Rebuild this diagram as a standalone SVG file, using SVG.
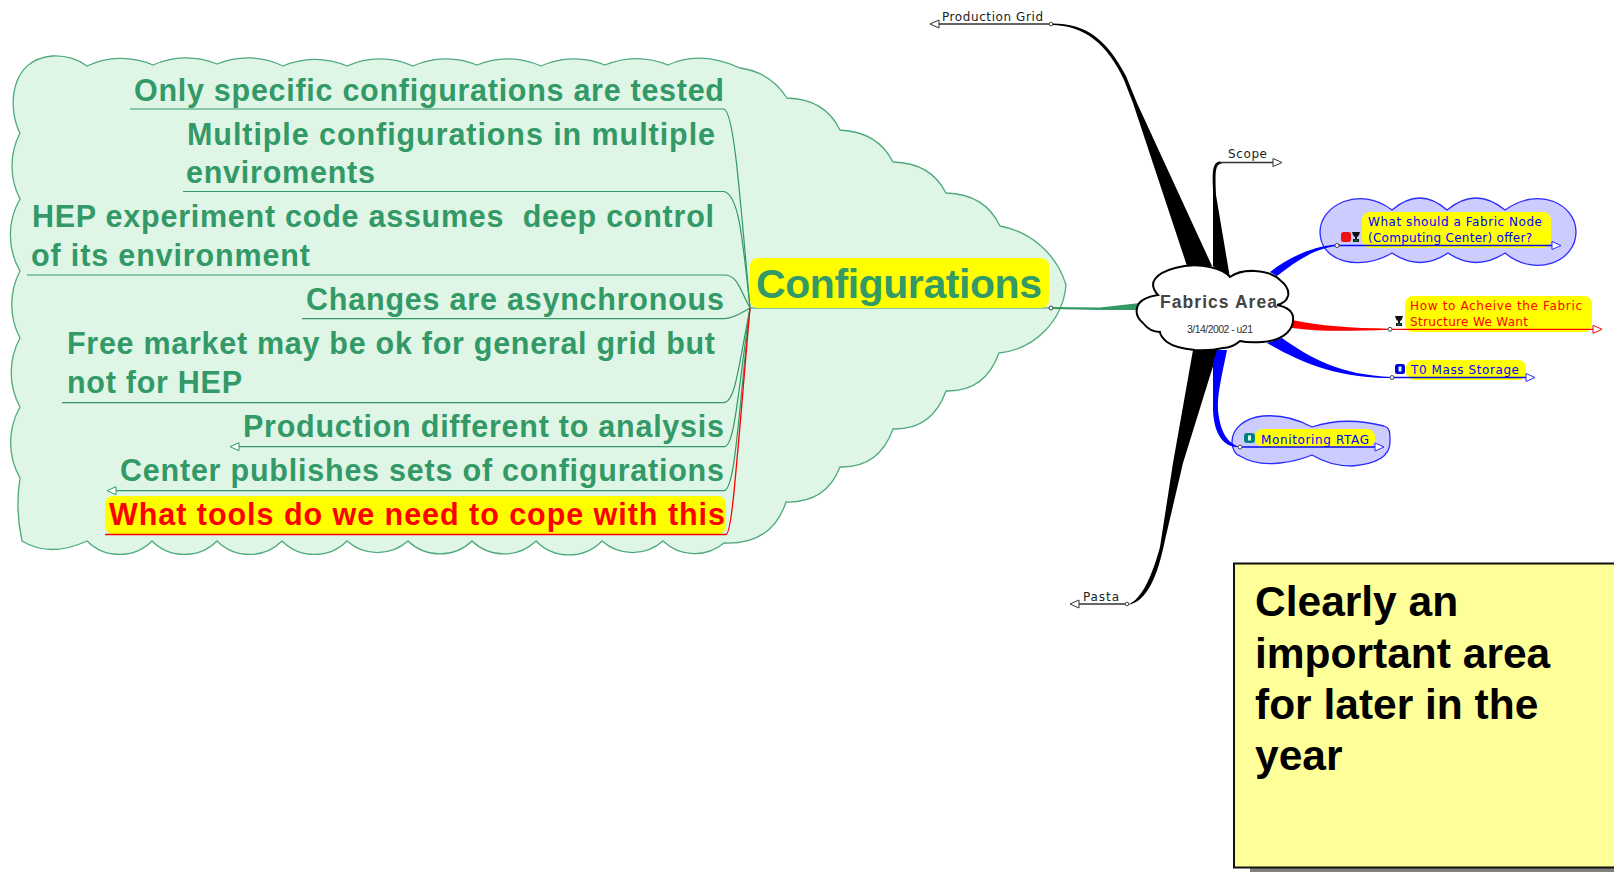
<svg xmlns="http://www.w3.org/2000/svg" width="1614" height="872" viewBox="0 0 1614 872">
<style>
.lt{font:bold 30.5px "Liberation Sans",Arial,sans-serif;fill:#339966}
.cfg{font:bold 41px "Liberation Sans",Arial,sans-serif;fill:#339966}
.sm{font:12px "DejaVu Sans",sans-serif}
.k{fill:#222}.b{fill:#0000ff}.r{fill:#ff0000}
.hl{fill:#ffff00}
.gl{fill:none;stroke:#339966;stroke-width:1.2}
.kl{fill:none;stroke:#333;stroke-width:1.5}
.bl{fill:none;stroke:#0a0af0;stroke-width:1.5}
.rl{fill:none;stroke:#ff0000;stroke-width:1.3}
.dot{fill:#fff;stroke:#444;stroke-width:1}
.nt{font:bold 42.5px "Liberation Sans",Arial,sans-serif;fill:#000}
</style>
<defs>
<marker id="ag" markerUnits="userSpaceOnUse" markerWidth="12" markerHeight="12" refX="1" refY="6" orient="auto-start-reverse"><path d="M1,2 L10,6 L1,10 Z" fill="#fff" stroke="#339966"/></marker>
<marker id="ak" markerUnits="userSpaceOnUse" markerWidth="12" markerHeight="12" refX="1" refY="6" orient="auto"><path d="M1,2 L10,6 L1,10 Z" fill="#fff" stroke="#333"/></marker>
<marker id="ab" markerUnits="userSpaceOnUse" markerWidth="12" markerHeight="12" refX="1" refY="6" orient="auto"><path d="M1,2 L10,6 L1,10 Z" fill="#fff" stroke="#2a2aff"/></marker>
<marker id="ar" markerUnits="userSpaceOnUse" markerWidth="12" markerHeight="12" refX="1" refY="6" orient="auto"><path d="M1,2 L10,6 L1,10 Z" fill="#fff" stroke="#ff0000"/></marker>
<g id="key"><path d="M0,0 H8 L7,3 Q6.5,4.6 5,5 V7 H7 V10 H1 V7 H3 V5 Q1.5,4.6 1,3 Z" fill="#111"/><rect x="2" y="7.5" width="4" height="2" fill="#0a6a2a"/></g>
</defs>

<g id="cloud-configurations">
<path fill="#dff6e7" stroke="#4ea97c" stroke-width="1.3" d="M87,66 A80,80 0 0 1 153,65 A80,80 0 0 1 217,64 A80,80 0 0 1 283,66 A80,80 0 0 1 347,66 A80,80 0 0 1 413,66 A80,80 0 0 1 477,65 A80,80 0 0 1 541,66 A80,80 0 0 1 605,65 A80,80 0 0 1 668,65 Q700,50 740,68 Q770,72 787,98 Q825,99 840,130 Q878,132 893,162 Q931,163 946,193 Q985,194 1000,226 A85,85 0 0 1 1066,285 A75,75 0 0 1 999,353 Q985,392 946,391 Q932,430 893,429 Q879,468 840,467 Q826,503 786,502 Q772,545 724,543 A46,46 0 0 1 663,541 A46,46 0 0 1 602,541 A46,46 0 0 1 536,541 A46,46 0 0 1 472,541 A46,46 0 0 1 408,541 A46,46 0 0 1 347,541 A46,46 0 0 1 282,541 A46,46 0 0 1 217,541 A46,46 0 0 1 152,541 A46,46 0 0 1 87,541 Q50,558 22,541 Q15,510 20,478 A72,72 0 0 1 20,407 A72,72 0 0 1 20,338 A72,72 0 0 1 20,271 A72,72 0 0 1 20,199 A72,72 0 0 1 20,133 C8,110 8,60 52,56 Q72,55 87,66 Z"/>
</g>

<g id="cloud-fabric-node"><path fill="#ccccff" stroke="#2a2aff" stroke-width="1.3" d="M1392,210 Q1420,186 1447,210 Q1476,186 1505,210 C1540,185 1576,205 1576,232 C1576,262 1535,278 1505,253 Q1476,272 1448,253 Q1420,272 1392,253 C1360,272 1320,262 1320,232 C1320,205 1360,185 1392,210 Z"/></g>
<g id="cloud-monitoring"><path fill="#ccccff" stroke="#2a2aff" stroke-width="1.3" d="M1312,427 Q1288,414 1263,416 C1245,418 1232,428 1232,442 C1232,450 1236,455 1240,456 Q1256,466 1280,463 Q1298,461 1312,455 Q1330,466 1352,466 C1376,464 1390,456 1390,442 C1390,432 1390,428 1384,426 Q1345,416 1312,427 Z"/></g>

<g id="connectors">
<path class="gl" d="M130,109 H724 C733,112 738,170 750,308"/>
<path class="gl" d="M183,191.5 H724 C738,195 742,230 750,308"/>
<path class="gl" d="M27,275 H724 C738,275 740,290 750,308"/>
<path class="gl" d="M302,318.6 H724 C735,318.6 742,312 750,308"/>
<path class="gl" d="M62,402.6 H724 C735,402 738,370 750,308"/>
<path class="gl" marker-start="url(#ag)" d="M239,446.7 H724 C735,447 738,390 750,308"/>
<path class="gl" marker-start="url(#ag)" d="M116,490.7 H724 C735,490 738,420 750,308"/>
<path fill="#339966" d="M1051,307 L1100,307.5 L1140,303 L1140,310 L1100,310 L1051,309 Z"/>
<path class="gl" d="M750,308 H1051"/>
<path fill="#000" d="M1051,23.5 C1085,23 1106,38 1126,76 L1137,103 L1212,266 L1187,266 L1133,103 L1124,80 C1108,45 1085,25 1051,25 Z"/>
<path class="kl" marker-end="url(#ak)" d="M1051,24 H939"/>
<path fill="#000" d="M1220,161.5 C1213,162 1212,170 1213,190 L1213,266 L1230,278 L1216,195 C1215,172 1215,164 1222,163.5 Z"/>
<path class="kl" marker-end="url(#ak)" d="M1220,162.5 H1273"/>
<path fill="#000" d="M1193,350 L1218,350 L1183,463 L1165,540 C1158,575 1147,603 1127,605 C1143,600 1153,572 1160,547 L1173,463 Z"/>
<path class="kl" marker-end="url(#ak)" d="M1127,604 H1079"/>
<path fill="#0000ff" d="M1337,244.5 C1315,246 1290,256 1270,272 L1277,276 C1295,262 1315,248 1337,246 Z"/>
<path fill="#ff0000" d="M1292,320 C1320,326 1350,328 1390,328.7 V329.7 C1350,331 1320,332 1292,328 Z"/>
<path fill="#0000ff" d="M1267,343 L1282,338 C1310,358 1340,375 1392,377 V378 C1340,378 1305,365 1267,343 Z"/>
<path fill="#0000ff" d="M1217,350 L1227,350 C1222,375 1217,395 1218,410 C1220,432 1228,444 1240,447 C1224,448 1214,435 1213,410 L1213,363 Z"/>
</g>

<g id="n-only"><text class="lt" x="134" y="100.5" textLength="590">Only specific configurations are tested</text></g>
<g id="n-multiple"><text class="lt" x="187" y="144.5" textLength="528">Multiple configurations in multiple</text><text class="lt" x="186" y="183" textLength="189">enviroments</text></g>
<g id="n-hep"><text class="lt" x="32" y="227" xml:space="preserve" textLength="682">HEP experiment code assumes  deep control</text><text class="lt" x="31" y="266" textLength="279">of its environment</text></g>
<g id="n-changes"><text class="lt" x="306" y="309.5" textLength="418">Changes are asynchronous</text></g>
<g id="n-free"><text class="lt" x="67" y="353.5" textLength="648">Free market may be ok for general grid but</text><text class="lt" x="67" y="392.5" textLength="175">not for HEP</text></g>
<g id="n-production"><text class="lt" x="243" y="436.5" textLength="481">Production different to analysis</text></g>
<g id="n-center"><text class="lt" x="120" y="480.5" textLength="604">Center publishes sets of configurations</text></g>
<g id="n-tools"><rect class="hl" x="105" y="496" width="621" height="38" rx="8"/><path class="rl" stroke-width="1.5" d="M105,534.5 H726 C732,534 736,470 750,308"/><text class="lt" style="fill:#ff0000" x="109" y="524.5" textLength="616">What tools do we need to cope with this</text></g>
<g id="n-configurations"><rect class="hl" x="750" y="258" width="299" height="50" rx="8"/><text class="cfg" x="756" y="298" textLength="286">Configurations</text><circle class="dot" cx="1051" cy="308" r="2"/></g>

<g id="n-fabrics">
<path fill="#fff" stroke="#000" stroke-width="2" d="M1230,277 Q1240,270 1255,271 Q1272,272 1280,280 Q1290,288 1288,296 Q1286,303 1277,305 Q1292,308 1293,317 Q1294,326 1287,333 Q1278,341 1262,342 Q1248,343 1240,341 Q1232,348 1223,348 Q1210,351 1195,350 Q1175,348 1167,342 Q1160,336 1160,332 Q1150,332 1143,323 Q1135,316 1137,308 Q1139,298 1158,295 Q1150,286 1155,279 Q1160,272 1175,268 Q1192,263 1210,267 Q1224,270 1230,277 Z"/>
<text x="1160" y="308" textLength="117" style="font:bold 17.5px 'Liberation Sans',sans-serif;fill:#444">Fabrics Area</text>
<text x="1187" y="333" textLength="66" style="font:10.5px 'Liberation Sans',sans-serif;fill:#333">3/14/2002 - u21</text>
</g>

<g id="n-production-grid"><text class="sm k" x="942" y="20.5" textLength="101">Production Grid</text><circle class="dot" cx="1051" cy="24" r="1.8"/></g>
<g id="n-scope"><text class="sm k" x="1228" y="158" textLength="39">Scope</text></g>
<g id="n-pasta"><text class="sm k" x="1083" y="600.5" textLength="36">Pasta</text><circle class="dot" cx="1127" cy="604" r="1.8"/></g>

<g id="n-fabric-node">
<rect class="hl" x="1362" y="212" width="189" height="36" rx="8"/>
<text class="sm b" x="1368" y="226" textLength="174">What should a Fabric Node</text>
<text class="sm b" x="1368" y="242" textLength="164">(Computing Center) offer?</text>
<path class="bl" marker-end="url(#ab)" d="M1337,245.5 H1552"/>
<circle class="dot" cx="1337" cy="245.5" r="2"/>
<rect x="1341" y="232" width="10" height="10" rx="2.5" fill="#ee1111"/>
<use href="#key" x="1352" y="232"/>
</g>
<g id="n-how">
<rect class="hl" x="1405" y="296" width="187" height="36" rx="8"/>
<text class="sm r" x="1410" y="310" textLength="172">How to Acheive the Fabric</text>
<text class="sm r" x="1410" y="326" textLength="118">Structure We Want</text>
<path class="rl" marker-end="url(#ar)" d="M1390,329.3 H1593"/>
<circle class="dot" cx="1390" cy="329.3" r="2"/>
<use href="#key" x="1395" y="316"/>
</g>
<g id="n-t0">
<rect class="hl" x="1406" y="360" width="120" height="20" rx="8"/>
<text class="sm b" x="1411" y="374" textLength="108">T0 Mass Storage</text>
<path class="bl" marker-end="url(#ab)" d="M1392,377.5 H1526"/>
<circle class="dot" cx="1392" cy="377.5" r="2"/>
<rect x="1395" y="364" width="10" height="10" rx="2.5" fill="#0000dd"/>
<rect x="1398.5" y="366.5" width="3" height="5" fill="#cfe"/>
</g>
<g id="n-monitoring">
<rect class="hl" x="1255" y="429" width="120" height="18" rx="8"/>
<text class="sm b" x="1261" y="444" textLength="108">Monitoring RTAG</text>
<path class="bl" marker-end="url(#ab)" d="M1240,447 H1375"/>
<circle class="dot" cx="1240" cy="447" r="2"/>
<rect x="1244" y="433" width="11" height="10" rx="3" fill="#008080"/>
<rect x="1248" y="435.5" width="3" height="5" fill="#cfe"/>
</g>

<g id="note">
<rect x="1250" y="567" width="364" height="305" fill="#808080"/>
<rect x="1234" y="563.5" width="382" height="304" fill="#ffff99" stroke="#111" stroke-width="2"/>
<text class="nt" x="1255" y="615.5">Clearly an</text>
<text class="nt" x="1255" y="667.5">important area</text>
<text class="nt" x="1255" y="718.5">for later in the</text>
<text class="nt" x="1255" y="769.5">year</text>
</g>
</svg>
